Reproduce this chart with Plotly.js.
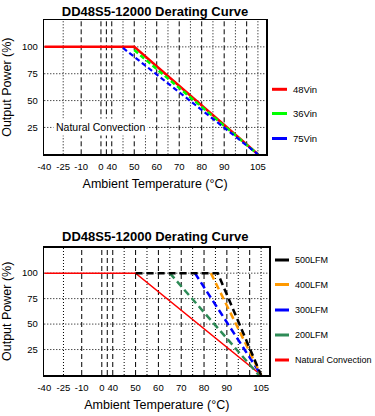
<!DOCTYPE html>
<html>
<head>
<meta charset="utf-8">
<script src="https://cdn.plot.ly/plotly-3.0.1.min.js"></script>
<style>html,body{margin:0;padding:0;background:#fff;}#chart{width:375px;height:416px;}</style>
</head>
<body>
<div id="chart"></div>
<script>
// ---------- data ----------
const chartTitle = 'DD48S5-12000 Derating Curve';
const xTitle = 'Ambient Temperature (°C)';
const yTitle = 'Output Power (%)';

const xTickTemps = [-40, -25, -10, 0, 40, 50, 60, 70, 80, 90, 105];
const xTickLabels = ['-40', '-25', '-10', '0', '40', '50', '60', '70', '80', '90', '105'];
const yTickVals = [25, 50, 75, 100];
const yTickLabels = ['25', '50', '75', '100'];

const dashedGridTemps = [-10, 0, 20, 40, 50, 60, 70, 80, 90, 100];
const dottedGridTemps = [-25, 45, 55, 65, 75, 85, 95, 105];
const yGridVals = [25, 50, 75, 100];

// top chart series
const topNames = ['48Vin', '36Vin', '75Vin'];
const temp48Vin = [-40, 50, 105];
const power48Vin = [100, 100, 0];
const temp36Vin = [50, 105];
const power36Vin = [97, 0];
const temp75Vin = [45, 105];
const power75Vin = [99, 0];
const topNote = 'Natural Convection';

// bottom chart series
const bottomNames = ['500LFM', '400LFM', '300LFM', '200LFM', 'Natural Convection'];
const temp500 = [50, 86, 105];
const power500 = [100, 100, 0];
const temp400 = [83, 105];
const power400 = [100, 0];
const temp300 = [76, 105];
const power300 = [100, 0];
const temp200 = [65, 104];
const power200 = [100, 0];
const tempNat = [-40, 50, 105];
const powerNat = [100, 100, 0];

// ---------- axis scale (compressed below 40 °C) ----------
const scaleTemps = [-40, -25, -10, 0, 20, 40];
const scalePos = [10, 18.4, 26.4, 35.2, 37.6, 40];
function xmap(t) {
  if (t >= 40) return t;
  for (let i = 0; i < scaleTemps.length - 1; i++) {
    if (t >= scaleTemps[i] && t <= scaleTemps[i + 1]) {
      const f = (t - scaleTemps[i]) / (scaleTemps[i + 1] - scaleTemps[i]);
      return scalePos[i] + f * (scalePos[i + 1] - scalePos[i]);
    }
  }
  return scalePos[0];
}
const mapArr = a => a.map(xmap);

// ---------- styles ----------
const W = 375, H = 416;
const px = v => v / W;
const py = v => 1 - v / H;
const FONT = 'Arial, "Liberation Sans", sans-serif';

const topStyle = [
  {color: '#ff0000', width: 2.5, dash: 'solid'},
  {color: '#00ff00', width: 2.5, dash: '5px,3px'},
  {color: '#0000ff', width: 2.2, dash: '5px,3px'}
];
const botStyle = [
  {color: '#000000', width: 2.5, dash: '7px,4px'},
  {color: '#ff9900', width: 2.5, dash: '7px,4px'},
  {color: '#0000ff', width: 2.5, dash: '7px,4px'},
  {color: '#2e8b57', width: 2.5, dash: '7px,4px'},
  {color: '#ff0000', width: 1.5, dash: 'solid'}
];

function tr(x, y, name, st, xa, ya) {
  return {x: mapArr(x), y: y, name: name, type: 'scatter', mode: 'lines',
    line: {color: st.color, width: st.width, dash: st.dash},
    xaxis: xa, yaxis: ya, hoverinfo: 'skip'};
}

const traces = [
  tr(temp48Vin, power48Vin, topNames[0], topStyle[0], 'x', 'y'),
  tr(temp36Vin, power36Vin, topNames[1], topStyle[1], 'x', 'y'),
  tr(temp75Vin, power75Vin, topNames[2], topStyle[2], 'x', 'y'),
  tr(tempNat, powerNat, bottomNames[4], botStyle[4], 'x2', 'y2'),
  tr(temp200, power200, bottomNames[3], botStyle[3], 'x2', 'y2'),
  tr(temp300, power300, bottomNames[2], botStyle[2], 'x2', 'y2'),
  tr(temp400, power400, bottomNames[1], botStyle[1], 'x2', 'y2'),
  tr(temp500, power500, bottomNames[0], botStyle[0], 'x2', 'y2')
];

// ---------- grid shapes ----------
const shapes = [];
function addGrid(xr, yr) {
  dashedGridTemps.forEach(t => shapes.push({type: 'line', layer: 'below', xref: xr, yref: yr + ' domain',
    x0: xmap(t), x1: xmap(t), y0: 0, y1: 1, line: {color: '#000', width: 1, dash: '5px,3px'}}));
  dottedGridTemps.forEach(t => shapes.push({type: 'line', layer: 'below', xref: xr, yref: yr + ' domain',
    x0: xmap(t), x1: xmap(t), y0: 0, y1: 1, line: {color: '#000', width: 1, dash: '1px,2px'}}));
  yGridVals.forEach(v => shapes.push({type: 'line', layer: 'below', xref: xr + ' domain', yref: yr,
    x0: 0, x1: 1, y0: v, y1: v, line: {color: '#000', width: 1, dash: '1px,2px'}}));
}
addGrid('x', 'y');
addGrid('x2', 'y2');

// ---------- manual legends ----------
const annotations = [];
const topLegendY = [89.3, 113.5, 138.5];
topNames.forEach((n, i) => {
  shapes.push({type: 'line', xref: 'paper', yref: 'paper', x0: px(272), x1: px(287),
    y0: py(topLegendY[i]), y1: py(topLegendY[i]), line: {color: topStyle[i].color, width: 3}});
  annotations.push({xref: 'paper', yref: 'paper', x: px(290.5), y: py(topLegendY[i]), text: n,
    showarrow: false, xanchor: 'left', yanchor: 'middle', font: {size: 9.5, family: FONT, color: '#000'}});
});
const botLegendY = [260, 284.5, 310, 335, 360];
bottomNames.forEach((n, i) => {
  shapes.push({type: 'line', xref: 'paper', yref: 'paper', x0: px(275), x1: px(289),
    y0: py(botLegendY[i]), y1: py(botLegendY[i]), line: {color: botStyle[i].color, width: 3}});
  annotations.push({xref: 'paper', yref: 'paper', x: px(292.5), y: py(botLegendY[i]), text: n,
    showarrow: false, xanchor: 'left', yanchor: 'middle', font: {size: 9, family: FONT, color: '#000'}});
});

// note inside top chart
annotations.push({xref: 'x', yref: 'y', x: xmap(0), y: 25, text: topNote, showarrow: false,
  xanchor: 'center', yanchor: 'middle', bgcolor: '#fff', borderpad: 2,
  font: {size: 10.5, family: FONT, color: '#000'}});

// bottom chart title
annotations.push({xref: 'paper', yref: 'paper', x: px(155), y: py(236), text: '<b>' + chartTitle + '</b>',
  showarrow: false, xanchor: 'center', yanchor: 'middle', font: {size: 13, family: FONT, color: '#000'}});

// ---------- axes ----------
function xAxis(domain, anchor) {
  return {domain: domain, anchor: anchor, range: [10, 108.6], tickmode: 'array',
    tickvals: mapArr(xTickTemps), ticktext: xTickLabels, showgrid: false, zeroline: false,
    showline: true, mirror: true, linecolor: '#000', linewidth: 1.5,
    ticks: 'outside', ticklen: 3, tickcolor: 'rgba(0,0,0,0)',
    tickfont: {size: 9.5, family: FONT, color: '#000'},
    title: {text: xTitle, font: {size: 12.5, family: FONT, color: '#000'}, standoff: 8},
    fixedrange: true};
}
function yAxis(domain, anchor) {
  return {domain: domain, anchor: anchor, range: [0, 125], tickmode: 'array',
    tickvals: yTickVals, ticktext: yTickLabels, showgrid: false, zeroline: false,
    showline: true, mirror: true, linecolor: '#000', linewidth: 1.5,
    ticks: 'outside', ticklen: 3, tickcolor: 'rgba(0,0,0,0)',
    tickfont: {size: 9.5, family: FONT, color: '#000'},
    title: {text: yTitle, font: {size: 12.5, family: FONT, color: '#000'}, standoff: 8},
    fixedrange: true};
}

const layout = {
  width: W, height: H, margin: {l: 0, r: 0, t: 0, b: 0, pad: 0},
  paper_bgcolor: '#fff', plot_bgcolor: '#fff', showlegend: false,
  font: {family: FONT, color: '#000'},
  title: {text: '<b>' + chartTitle + '</b>', font: {size: 13, family: FONT, color: '#000'},
    x: px(155), y: py(11), xanchor: 'center', yanchor: 'middle', xref: 'paper', yref: 'paper'},
  xaxis: xAxis([px(44.3), px(266)], 'y'),
  yaxis: yAxis([py(154.3), py(20)], 'x'),
  xaxis2: xAxis([px(44.3), px(269.3)], 'y2'),
  yaxis2: yAxis([py(375), py(247.7)], 'x2'),
  shapes: shapes,
  annotations: annotations
};

Plotly.newPlot('chart', traces, layout, {displayModeBar: false, staticPlot: true});
</script>
</body>
</html>
